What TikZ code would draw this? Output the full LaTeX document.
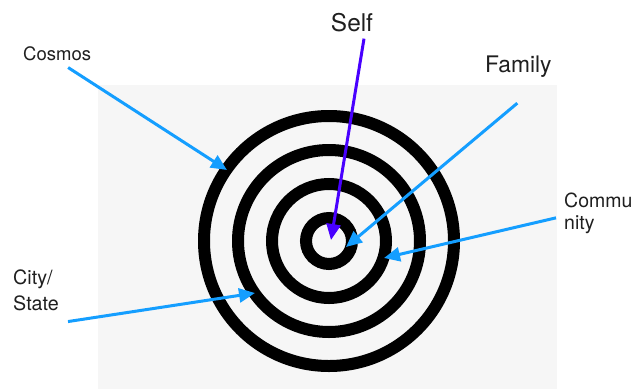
\documentclass[tikz,border=0pt]{standalone}
\usepackage{fontspec}
\setmainfont{TeX Gyre Heros}
\usepackage{xcolor}
\usetikzlibrary{arrows.meta,calc}
\definecolor{skyb}{HTML}{149EFF}
\definecolor{violetb}{HTML}{4800FF}
\definecolor{panel}{HTML}{F6F6F6}

\begin{document}
\begin{tikzpicture}[x=1pt,y=-1pt,
  lbl/.style={inner sep=0pt,text=black!88},
  arr/.style={line width=3pt,-{Triangle[length=16pt,width=14pt]}}]
\useasboundingbox (0,0) rectangle (637,389);
\fill[panel] (98,85) rectangle (557,389);
\coordinate (c) at (329,241);
\foreach \r in {23,57,91,125}{\draw[line width=12pt] (c) circle[radius=\r pt];}
\node[lbl,font=\fontsize{18.5}{22}\selectfont,anchor=base west] (cosmos) at (23,60) {Cosmos};
\node[lbl,font=\fontsize{24.4}{28}\selectfont,anchor=base] (self) at (352,31) {Self};
\node[lbl,font=\fontsize{22.8}{26}\selectfont,anchor=base west] (family) at (485,72) {Family};
\node[lbl,font=\fontsize{19.5}{22}\selectfont,anchor=base west,align=left] (community) at (564,229) {Commu\\nity};
\node[lbl,font=\fontsize{19.7}{26}\selectfont,anchor=base west,align=left] (city) at (13,310) {City/\\State};
\coordinate (tip-cosmos) at (227,170);
\coordinate (tip-self) at (331,240);
\coordinate (tip-family) at (346,247);
\coordinate (tip-community) at (384,258);
\coordinate (tip-city) at (255,293);
\draw[arr,skyb] ($(cosmos.south)+(11,7)$) -- (tip-cosmos);
\draw[arr,violetb] ($(self.south)+(12,7)$) -- (tip-self);
\draw[arr,skyb] ($(family.south)+(-1,26)$) -- (tip-family);
\draw[arr,skyb] ($(community.west)+(-8,5)$) -- (tip-community);
\draw[arr,skyb] ($(city.south)+(32,11)$) -- (tip-city);
\end{tikzpicture}
\end{document}
